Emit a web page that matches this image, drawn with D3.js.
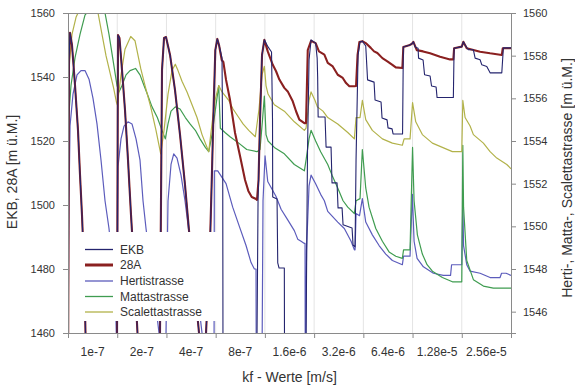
<!DOCTYPE html>
<html><head><meta charset="utf-8">
<script src="https://cdn.jsdelivr.net/npm/d3@7"></script>
<style>
body{margin:0;background:#fff;}
svg{display:block;font-family:"Liberation Sans",Arial,sans-serif;}
</style></head>
<body><svg id="c" width="575" height="388"></svg>
<script>
// kf values (one simulation run per value), 100 time steps per run
const categories = ["1e-7","2e-7","4e-7","8e-7","1.6e-6","3.2e-6","6.4e-6","1.28e-5","2.56e-5"];
const stepsPerRun = 100;
const leftTicks = [1460,1480,1500,1520,1540,1560];
const rightTicks = [1546,1548,1550,1552,1554,1556,1558,1560];
const seriesNames = ["EKB","28A","Hertistrasse","Mattastrasse","Scalettastrasse"];

// [time step, level m ü.M.]  (left axis)
const a28 = [[0,1439],[2.0,1545.3],[4.1,1553.8],[8.1,1550.0],[14.2,1537.5],[20.3,1523.4],[24.4,1509.4],[28.4,1496.9],[32.5,1481.3],[35.6,1460],[37.6,1439],
 [97.5,1439],[99.6,1460],[101.6,1553.1],[104.6,1552.2],[109.7,1542.2],[115.8,1529.7],[121.9,1514.1],[128.0,1496.9],[134.1,1481.3],[141.2,1460],[144.3,1439],
 [182.9,1439],[186.9,1460],[191.0,1542.2],[195.1,1552.2],[199.1,1552.5],[207.3,1546.9],[217.4,1535.9],[227.6,1521.9],[237.7,1506.3],[245.9,1491.9],[256.0,1476.6],[266.2,1460],[270.3,1439],
 [276.4,1439],[280.4,1460],[284.5,1473.4],[289.2,1491.9],[292.6,1510.9],[295.7,1529.7],[299.3,1548.4],[303.4,1551.9],[306.8,1550.0],[312.3,1545.3],[315.6,1544.7],[321.1,1539.1],[329.2,1532.8],[339.4,1522.5],[349.5,1515.3],[359.7,1507.8],[366.4,1504.4],[373.3,1502.5],[382.0,1501.9],[384.0,1501.6],[387.1,1507.8],[390.1,1526.6],[394.2,1546.9],[398.9,1551.6],
 [405.8,1548.0],[416.0,1543.8],[422.7,1541.8],[429.4,1539.2],[439.5,1536.6],[446.4,1535.5],[456.6,1532.4],[463.3,1529.3],[470.0,1526.7],[480.2,1525.6],[483.6,1525.6],[487.1,1548.4],[493.8,1551.3],
 [503.1,1550.6],[509.8,1548.0],[520.8,1547.0],[527.7,1544.4],[537.9,1543.3],[548.0,1540.7],[558.2,1539.7],[564.9,1538.1],[571.6,1537.1],[581.8,1537.1],[585.2,1537.2],[588.3,1546.9],[591.9,1550.9],[598.0,1551.2],
 [604.9,1550.6],[615.1,1549.1],[621.8,1548.0],[628.5,1547.5],[638.7,1545.9],[648.8,1544.9],[659.0,1543.8],[665.9,1543.0],[679.3,1542.8],[681.3,1549.4],[692.9,1549.9],[698.0,1550.3],[701.7,1551.0],
 [708.6,1548.4],[721.4,1548.0],[735.6,1547.4],[755.9,1546.3],[776.2,1545.5],[782.9,1545.5],[784.4,1549.0],[800.0,1549.5],[803.2,1551.0],
 [810.1,1549.0],[837.2,1547.9],[857.5,1547.4],[881.3,1546.9],[883.3,1549.0],[900,1549.0]];

const ekb = [[0,1439],[2.0,1545.3],[4.1,1553.8],[8.1,1550.0],[14.2,1537.5],[20.3,1523.4],[24.4,1509.4],[28.4,1496.9],[32.5,1481.3],[35.6,1460],[37.6,1439],
 [97.5,1439],[99.6,1460],[101.6,1553.1],[104.6,1552.2],[109.7,1542.2],[115.8,1529.7],[121.9,1514.1],[128.0,1496.9],[134.1,1481.3],[141.2,1460],[144.3,1439],
 [182.9,1439],[186.9,1460],[191.0,1542.2],[195.1,1552.2],[199.1,1552.5],[207.3,1546.9],[217.4,1535.9],[227.6,1521.9],[237.7,1506.3],[245.9,1491.9],[256.0,1476.6],[266.2,1460],[270.3,1439],
 [276.4,1439],[280.4,1460],[284.5,1473.4],[289.2,1491.9],[292.6,1510.9],[295.7,1529.7],[299.3,1548.4],[303.4,1551.9],[307.8,1549.4],[312.9,1545.9],[314.3,1517.2],[315.0,1439],
 [383.0,1439],[386.1,1501.6],[390.1,1526.6],[394.2,1546.9],[398.9,1551.6],[406.4,1549.4],[413.5,1547.8],[415.5,1526.6],[415.9,1502.5],[424.7,1501.9],[426.1,1481.9],[428.8,1480.3],[439.5,1480.3],[440.1,1439],
 [482.6,1439],[486.6,1517.2],[489.7,1545.3],[493.8,1551.6],[503.1,1550.6],[506.2,1545.9],[507.2,1540.0],[508.2,1527.5],[522.2,1527.5],[524.3,1518.1],[534.4,1518.1],[536.4,1506.9],[546.6,1506.9],[548.6,1499.1],[556.8,1499.1],[558.8,1493.8],[577.1,1492.8],[579.1,1487.5],[583.2,1486.9],[585.2,1514.1],[589.3,1546.9],[593.3,1550.9],[598.0,1551.2],
 [604.9,1549.7],[608.6,1539.1],[621.8,1538.4],[623.8,1532.8],[636.0,1532.2],[638.0,1527.2],[648.2,1526.6],[650.2,1524.1],[658.4,1523.8],[660.4,1522.2],[679.7,1522.2],[681.3,1549.4],[692.9,1549.9],[698.0,1550.3],[701.7,1551.0],
 [705.1,1549.4],[711.2,1549.0],[712.2,1545.9],[721.4,1545.3],[724.4,1540.7],[735.6,1540.3],[738.6,1537.2],[747.8,1536.9],[749.8,1533.6],[782.9,1533.6],[784.4,1549.0],[800.0,1549.5],[803.2,1551.0],
 [806.7,1550.0],[813.4,1548.5],[823.6,1548.5],[827.1,1545.9],[837.2,1545.4],[840.7,1543.8],[850.8,1543.3],[857.5,1541.3],[881.3,1541.3],[884.5,1549.1],[900,1549.1]];

// right axis
const herti = [[0,1543.7],[2.0,1551.2],[4.1,1554.7],[10.2,1556.2],[18.3,1557.1],[26.4,1557.3],[34.5,1557.3],[42.7,1556.9],[50.8,1556.0],[58.9,1554.8],[67.1,1553.1],[75.2,1551.2],[83.3,1549.9],[91.4,1548.0],[97.5,1545.6],[99.6,1543.7],
 [101.6,1552.8],[107.7,1554.1],[113.8,1554.7],[121.9,1554.9],[130.0,1554.8],[138.2,1554.1],[146.3,1553.1],[152.4,1551.2],[158.5,1549.9],[166.6,1548.4],[176.8,1546.6],[184.9,1545.0],[186.9,1543.7],
 [197.1,1543.7],[199.1,1545.0],[203.2,1551.2],[209.3,1552.9],[214.8,1553.4],[221.5,1553.2],[229.6,1552.4],[237.7,1551.2],[245.3,1549.8],[254.0,1548.2],[264.2,1546.6],[272.3,1545.0],[276.4,1543.7],
 [296.7,1543.7],[297.3,1552.6],[304.2,1552.6],[321.1,1552.0],[334.6,1550.9],[348.1,1550.0],[361.7,1549.1],[371.9,1548.3],[378.6,1548.0],[382.0,1548.0],[382.4,1543.7],
 [394.2,1543.7],[396.2,1551.2],[400.3,1553.3],[405.8,1552.1],[422.7,1551.4],[432.9,1550.8],[446.4,1550.3],[459.8,1549.8],[466.7,1549.4],[473.5,1549.3],[480.2,1549.2],[481.6,1549.2],[482.0,1543.7],
 [482.8,1543.7],[484.6,1548.9],[489.7,1551.9],[493.8,1552.4],[503.1,1552.0],[513.3,1551.5],[520.8,1551.2],[527.7,1550.7],[548.0,1550.2],[561.4,1549.9],[575.1,1549.3],[581.8,1548.9],[583.2,1548.9],[585.2,1550.6],[592.3,1550.5],[598.0,1551.3],
 [604.9,1550.2],[618.3,1549.6],[632.0,1549.1],[645.6,1548.7],[659.0,1548.4],[679.3,1548.2],[681.7,1548.6],[694.9,1548.6],[699.6,1551.5],[703.1,1549.3],[709.2,1548.5],[722.0,1548.1],[742.3,1547.8],[762.6,1547.7],[777.2,1547.7],[779.3,1548.2],[800.0,1548.2],
 [802.1,1551.2],[803.6,1549.1],[810.1,1548.2],[816.9,1547.9],[837.2,1547.8],[857.5,1547.6],[877.8,1547.6],[880.8,1547.8],[890.0,1547.8],[900,1547.7]];

const matta = [[1.0,1555.0],[6.1,1556.6],[14.2,1557.9],[24.4,1559.0],[34.5,1559.9],[54.9,1560.5],[75.2,1560.0],[83.3,1559.0],[91.4,1557.8],[99.6,1556.6],
 [103.6,1556.3],[109.7,1556.6],[117.9,1557.1],[126.0,1557.3],[137.2,1557.4],[146.3,1557.1],[154.4,1556.6],[161.1,1556.2],[170.7,1555.6],[181.5,1555.1],[191.0,1554.5],[197.7,1554.1],
 [203.2,1554.8],[209.3,1555.4],[218.0,1555.6],[227.6,1555.5],[238.4,1555.1],[247.9,1554.8],[258.7,1554.5],[268.2,1554.1],[279.0,1553.7],[285.9,1553.5],
 [292.6,1554.3],[296.7,1555.0],[306.2,1556.6],[309.5,1554.6],[319.0,1554.4],[329.2,1554.2],[346.9,1553.9],[363.1,1553.6],[384.0,1553.5],
 [390.1,1553.6],[395.2,1555.0],[398.9,1556.1],[402.3,1554.3],[406.4,1554.0],[419.2,1553.7],[439.5,1553.4],[459.8,1552.9],[480.2,1552.6],
 [483.6,1553.1],[489.7,1554.1],[493.8,1554.5],[503.1,1554.0],[513.3,1553.5],[527.7,1552.9],[536.4,1552.4],[548.0,1551.8],[558.8,1551.2],[568.4,1550.9],[581.8,1550.6],
 [585.2,1551.2],[593.3,1551.3],[598.0,1553.6],[604.9,1551.8],[611.6,1550.9],[625.3,1549.9],[638.7,1549.3],[652.3,1548.8],[665.9,1548.6],[679.3,1548.5],[681.7,1548.9],[694.9,1548.9],
 [700.0,1553.7],[703.1,1551.2],[709.8,1549.6],[719.9,1548.7],[729.5,1548.2],[740.3,1547.9],[760.6,1547.6],[780.9,1547.4],[800.0,1547.4],
 [802.1,1553.8],[803.6,1550.9],[810.1,1548.4],[823.6,1547.5],[843.9,1547.2],[864.2,1547.1],[900,1547.1]];

const scaletta = [[1.0,1557.1],[8.1,1559.0],[16.3,1559.8],[20.3,1560.0],[40.6,1560.5],[61.0,1560.0],[69.1,1559.0],[77.2,1558.0],[85.3,1557.2],[92.5,1556.5],[98.6,1555.8],
 [100.2,1555.7],[107.7,1557.1],[115.8,1558.3],[127.4,1558.9],[136.1,1558.7],[147.7,1557.4],[156.5,1556.6],[168.0,1555.6],[178.8,1554.5],[188.4,1553.4],
 [195.1,1554.5],[203.2,1556.2],[211.3,1557.3],[218.0,1557.6],[223.5,1557.3],[231.6,1556.8],[241.8,1556.3],[252.0,1555.7],[262.1,1555.1],[272.3,1554.3],[285.9,1553.5],
 [292.6,1554.8],[298.7,1555.9],[306.2,1556.6],[312.9,1556.3],[326.6,1555.9],[335.3,1555.5],[346.9,1555.1],[355.6,1554.8],[367.2,1554.5],[380.6,1554.2],
 [388.1,1555.5],[394.2,1557.1],[398.9,1557.5],[402.3,1556.6],[406.4,1556.2],[419.2,1555.7],[439.5,1555.4],[459.8,1554.9],[480.2,1554.5],
 [483.6,1554.6],[489.7,1555.9],[493.8,1556.3],[501.9,1555.9],[506.6,1555.6],[518.0,1555.4],[527.7,1555.1],[548.0,1554.8],[568.4,1554.4],[581.8,1554.1],
 [585.2,1555.1],[593.3,1555.1],[598.0,1555.9],[604.9,1555.0],[618.3,1554.5],[638.7,1554.1],[659.0,1553.9],[679.3,1553.8],[682.8,1554.1],[694.9,1554.1],
 [700.0,1555.8],[706.5,1554.9],[719.9,1554.3],[740.3,1553.9],[760.6,1553.7],[780.9,1553.5],[800.0,1553.5],
 [802.1,1555.9],[806.7,1555.1],[816.9,1554.7],[823.6,1554.3],[843.9,1553.9],[857.5,1553.5],[871.1,1553.2],[891.4,1552.9],[900,1552.7]];

const colors = {"EKB":"#24246e","28A":"#8a2020","Hertistrasse":"#5c5cbc","Mattastrasse":"#3f9c50","Scalettastrasse":"#b2b24a"};
const widths = {"EKB":1.1,"28A":2.1,"Hertistrasse":1.2,"Mattastrasse":1.2,"Scalettastrasse":1.2};

const W=575,H=388, L=68,R=511,T=13,B=333;
const svg=d3.select("#c");
const x=d3.scaleLinear().domain([0,categories.length*stepsPerRun]).range([L,R]);
const yL=d3.scaleLinear().domain([1460,1560]).range([B,T]);
const yR=d3.scaleLinear().domain([1545,1560]).range([B,T]);

// light vertical separators
svg.append("g").selectAll("line").data(d3.range(1,categories.length)).join("line")
  .attr("x1",d=>x(d*stepsPerRun)).attr("x2",d=>x(d*stepsPerRun)).attr("y1",T).attr("y2",B)
  .attr("stroke","#e4e4e4").attr("stroke-width",1);

svg.append("defs").append("clipPath").attr("id","clip").append("rect")
  .attr("x",L).attr("y",T).attr("width",R-L).attr("height",B-T);

const plot=svg.append("g").attr("clip-path","url(#clip)");
const lineL=d3.line().x(d=>x(d[0])).y(d=>yL(d[1]));
const lineR=d3.line().x(d=>x(d[0])).y(d=>yR(d[1]));
const draws=[["Hertistrasse",herti,lineR],["Mattastrasse",matta,lineR],["Scalettastrasse",scaletta,lineR],["28A",a28,lineL],["EKB",ekb,lineL]];
draws.forEach(([n,data,gen])=>{
  plot.append("path").datum(data).attr("d",gen).attr("fill","none")
   .attr("stroke",colors[n]).attr("stroke-width",widths[n]).attr("stroke-linejoin","round");
});

// legend (opaque)
const lg=svg.append("g");
lg.append("rect").attr("x",71).attr("y",232).attr("width",147).attr("height",89).attr("fill","#fff");
const rows=[249.5,265,281,296.5,312];
seriesNames.forEach((n,i)=>{
  lg.append("line").attr("x1",85).attr("x2",113).attr("y1",rows[i]).attr("y2",rows[i])
    .attr("stroke",colors[n]).attr("stroke-width",n==="28A"?3:1.3);
  lg.append("text").attr("x",120).attr("y",rows[i]).attr("dy","0.36em").attr("font-size",12).attr("fill","#333").text(n);
});

// frame top
svg.append("line").attr("x1",L).attr("x2",R).attr("y1",T+0.5).attr("y2",T+0.5).attr("stroke","#8a8a8a");

const axL=svg.append("g").attr("transform",`translate(${L},0)`)
 .call(d3.axisLeft(yL).tickValues(leftTicks).tickSize(5).tickPadding(8).tickFormat(d3.format("d")));
const axR=svg.append("g").attr("transform",`translate(${R},0)`)
 .call(d3.axisRight(yR).tickValues(rightTicks).tickSize(5).tickPadding(7).tickFormat(d3.format("d")));
const axB=svg.append("g").attr("transform",`translate(0,${B})`)
 .call(d3.axisBottom(x).tickValues(d3.range(0,categories.length+1).map(i=>i*stepsPerRun)).tickSize(5).tickFormat(""));
[axL,axR,axB].forEach(a=>{
  a.selectAll(".domain").attr("stroke","#8a8a8a");
  a.selectAll(".tick line").attr("stroke","#8a8a8a");
  a.selectAll("text").attr("font-size",11).attr("fill","#333").attr("font-family","Liberation Sans, Arial, sans-serif");
});
svg.append("g").selectAll("text").data(categories).join("text")
  .attr("x",(d,i)=>x((i+0.5)*stepsPerRun)).attr("y",356).attr("text-anchor","middle")
  .attr("font-size",12).attr("fill","#333").text(d=>d);

svg.append("text").attr("x",(L+R)/2).attr("y",382).attr("text-anchor","middle").attr("font-size",14).attr("fill","#333").text("kf - Werte [m/s]");
svg.append("text").attr("transform","translate(17,172) rotate(-90)").attr("text-anchor","middle").attr("font-size",14).attr("fill","#333").text("EKB, 28A [m ü.M.]");
svg.append("text").attr("transform","translate(572,178) rotate(-90)").attr("text-anchor","middle").attr("font-size",14).attr("fill","#333").text("Herti-, Matta-, Scalettastrasse [m ü.M.]");
</script></body></html>
